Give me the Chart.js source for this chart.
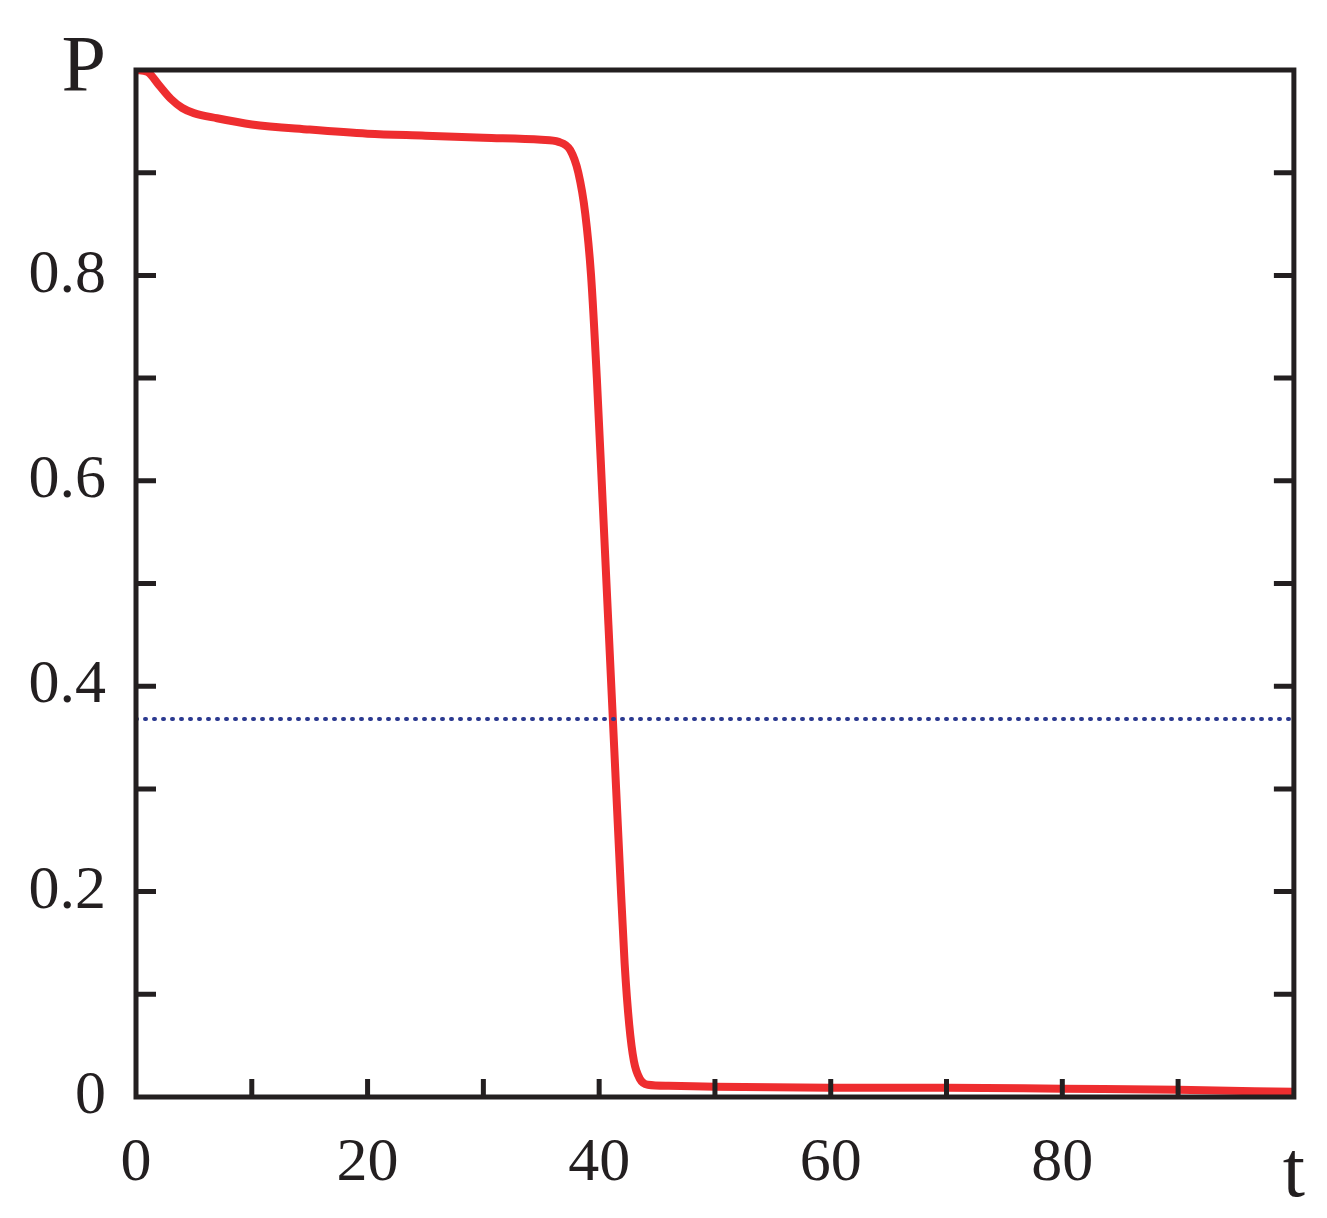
<!DOCTYPE html>
<html>
<head>
<meta charset="utf-8">
<script src="https://cdn.jsdelivr.net/npm/chart.js@4.4.0/dist/chart.umd.min.js"></script>
<style>
  html, body { margin: 0; padding: 0; background: #fff; }
  #wrap { width: 1327px; height: 1218px; }
</style>
</head>
<body>
<div id="wrap"><canvas id="c"></canvas></div>
<script>
// values
const tValues = [0, 1, 2, 3, 4, 5, 7, 10, 15, 20, 25, 30, 35, 36.5, 37.5, 38.2, 38.8, 39.3, 39.8, 40.3, 40.8, 41.3, 41.8, 42.2, 42.6, 43.0, 43.5, 44.2, 46, 50, 60, 70, 80, 90, 100];
const pValues = [1.0, 0.998, 0.985, 0.972, 0.963, 0.958, 0.953, 0.947, 0.942, 0.938, 0.936, 0.934, 0.932, 0.930, 0.922, 0.90, 0.86, 0.80, 0.70, 0.58, 0.46, 0.34, 0.22, 0.13, 0.07, 0.035, 0.018, 0.012, 0.011, 0.010, 0.009, 0.009, 0.008, 0.007, 0.005];
const thresholdY = 0.368;
const yMajor = [0, 0.2, 0.4, 0.6, 0.8, 1.0];
const xMajor = [0, 20, 40, 60, 80, 100];

const serif = '"Liberation Serif", "DejaVu Serif", serif';

const frame = {
    id: 'frame',
    afterDraw(chart) {
        const { ctx, chartArea: a, scales } = chart;
        ctx.save();
        ctx.strokeStyle = '#231f20';
        ctx.lineWidth = 5;
        ctx.strokeRect(a.left, a.top, a.right - a.left, a.bottom - a.top);
        ctx.lineWidth = 5;
        for (let i = 1; i < 10; i++) {
            const y = scales.y.getPixelForValue(i / 10);
            ctx.beginPath();
            ctx.moveTo(a.left, y); ctx.lineTo(a.left + 20, y);
            ctx.moveTo(a.right, y); ctx.lineTo(a.right - 20, y);
            ctx.stroke();
        }
        for (let i = 1; i < 10; i++) {
            const x = scales.x.getPixelForValue(i * 10);
            ctx.beginPath();
            ctx.moveTo(x, a.bottom); ctx.lineTo(x, a.bottom - 18);
            ctx.stroke();
        }
        ctx.restore();
    }
};

new Chart(document.getElementById('c'), {
    type: 'scatter',
    data: {
        datasets: [{
            label: 'threshold',
            data: [{ x: 0, y: thresholdY }, { x: 100, y: thresholdY }],
            showLine: true,
            borderColor: '#2b3990',
            borderWidth: 4,
            borderDash: [1, 8],
            borderCapStyle: 'round',
            pointRadius: 0
        }, {
            label: 'P',
            data: tValues.map((t, i) => ({ x: t, y: pValues[i] })),
            showLine: true,
            borderColor: '#ee2d2f',
            borderWidth: 8,
            cubicInterpolationMode: 'monotone',
            pointRadius: 0
        }]
    },
    options: {
        responsive: true,
        maintainAspectRatio: false,
        animation: false,
        layout: { padding: { top: 48, right: 29, left: 0, bottom: 0 } },
        plugins: { legend: { display: false }, tooltip: { enabled: false } },
        scales: {
            x: {
                type: 'linear', min: 0, max: 100,
                afterBuildTicks: s => { s.ticks = xMajor.map(v => ({ value: v })); },
                afterFit: s => { s.height = 121; },
                border: { display: false },
                grid: { display: false },
                ticks: {
                    padding: 22,
                    color: '#231f20',
                    maxRotation: 0,
                    font: ctx => ({ family: serif, size: ctx.tick && ctx.tick.value === 100 ? 80 : 62 }),
                    callback: v => v === 100 ? 't' : String(v)
                }
            },
            y: {
                type: 'linear', min: 0, max: 1,
                afterBuildTicks: s => { s.ticks = yMajor.map(v => ({ value: v })); },
                afterFit: s => { s.width = 136; },
                border: { display: false },
                grid: { display: false },
                ticks: {
                    padding: 22,
                    color: '#231f20',
                    font: ctx => ({ family: serif, size: ctx.tick && ctx.tick.value === 1 ? 80 : 62 }),
                    callback: v => v === 0 ? '0' : (v === 1 ? 'P' : v.toFixed(1))
                }
            }
        }
    },
    plugins: [frame]
});
</script>
</body>
</html>
